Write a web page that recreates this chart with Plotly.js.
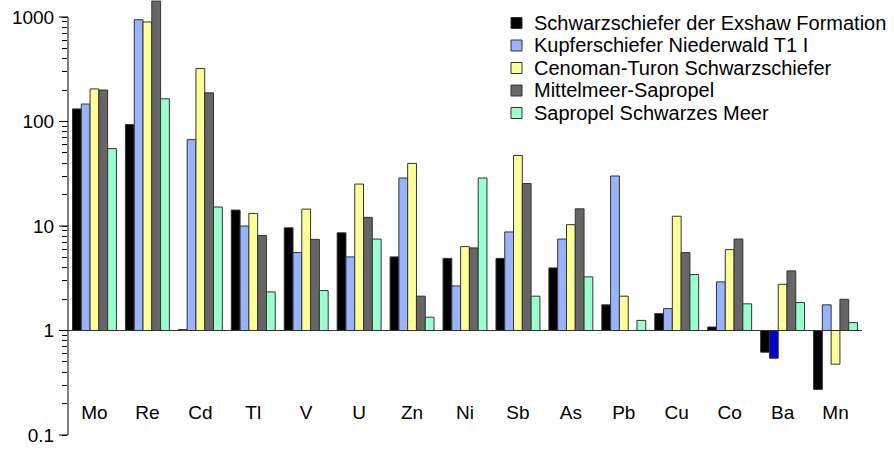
<!DOCTYPE html>
<html>
<head>
<meta charset="utf-8">
<script src="https://cdn.plot.ly/plotly-3.0.1.min.js"></script>
<style>
  html, body { margin: 0; padding: 0; background: #fff; }
  #chart { width: 894px; height: 449px; }
</style>
</head>
<body>
<div id="chart"></div>
<script>
// Element enrichment factors (log scale, bars drawn from the reference level 1)
const categories = ['Mo', 'Re', 'Cd', 'Tl', 'V', 'U', 'Zn', 'Ni', 'Sb', 'As', 'Pb', 'Cu', 'Co', 'Ba', 'Mn'];

const seriesNames = [
  'Schwarzschiefer der Exshaw Formation',
  'Kupferschiefer Niederwald T1 I',
  'Cenoman-Turon Schwarzschiefer',
  'Mittelmeer-Sapropel',
  'Sapropel Schwarzes Meer'
];

const exshaw        = [132, 93.5, 1.02, 14.2, 9.6, 8.6, 5.06, 4.9, 4.9, 3.97, 1.76, 1.45, 1.08, 0.62, 0.273];
const kupferschiefer= [147, 942, 67, 10, 5.56, 5.06, 28.8, 2.67, 8.77, 7.5, 30.1, 1.62, 2.92, 0.543, 1.76];
const cenomanTuron  = [205, 896, 321, 13.2, 14.5, 25.2, 39.7, 6.35, 47.3, 10.3, 2.13, 12.4, 5.94, 2.77, 0.476];
const mittelmeer    = [200, 1420, 188, 8.1, 7.45, 12.1, 2.13, 6.17, 25.5, 14.6, null, 5.56, 7.5, 3.72, 1.99];
const schwarzesMeer = [55, 165, 15.2, 2.34, 2.41, 7.5, 1.34, 28.8, 2.13, 3.26, 1.25, 3.43, 1.8, 1.85, 1.19];

const seriesValues = [exshaw, kupferschiefer, cenomanTuron, mittelmeer, schwarzesMeer];
const seriesColors = ['#000000', '#99B3FF', '#FFFF99', '#666666', '#99FFCC'];
const highlight = { series: 1, category: 'Ba', color: '#0000CC' };

const baseLevel = 1;
const axisMin = 0.1, axisMax = 1000;        // labelled span of the value axis
const majorTicks = [0.1, 1, 10, 100, 1000];
const fontFamily = 'Liberation Sans, Arial, sans-serif';

// plot area geometry in pixels
const W = 894, H = 449;
const M = { l: 68, r: 32, t: 0, b: 14 };
const headroom = 17;                          // px above the 1000 tick left for the tallest bar
const plotW = W - M.l - M.r, plotH = H - M.t - M.b;
const decadeLo = -1, decadeHi = 3;            // log10 of axisMin / axisMax
const pxPerDecade = (plotH - headroom) / (decadeHi - decadeLo);
const yRange = [decadeLo, decadeHi + headroom / pxPerDecade];
const pxX = px => (px - M.l) / plotW;
const pxY = py => 1 - (py - M.t) / plotH;
// value on the log axis -> paper fraction
const valY = v => (Math.log10(v) - yRange[0]) / (yRange[1] - yRange[0]);

// all axis ticks: labelled decades plus unlabelled 2..9 steps inside each decade
const tickValues = [];
const tickTexts = [];
for (let k = decadeLo; k <= decadeHi; k++) {
  const decade = Math.pow(10, k);
  tickValues.push(decade);
  tickTexts.push(String(majorTicks[k - decadeLo]));
  if (k < decadeHi) {
    for (let m = 2; m <= 9; m++) {
      tickValues.push(m * decade);
      tickTexts.push('');
    }
  }
}

const traces = seriesValues.map((vals, i) => {
  const colors = categories.map(c =>
    (i === highlight.series && c === highlight.category) ? highlight.color : seriesColors[i]);
  return {
    type: 'bar',
    name: seriesNames[i],
    x: categories,
    base: baseLevel,
    y: vals.map(v => (v == null ? null : v - baseLevel)),
    customdata: vals,
    hovertemplate: '%{x}: %{customdata}<extra>' + seriesNames[i] + '</extra>',
    marker: { color: colors, line: { color: '#333333', width: 1 } },
    showlegend: false
  };
});

// longer marks at the labelled decades
const majorPath = majorTicks.map(v =>
  'M' + pxX(M.l - 9) + ',' + valY(v) + 'H' + pxX(M.l)).join(' ');

const shapes = [
  {
    type: 'path', xref: 'paper', yref: 'paper', path: majorPath,
    line: { color: '#000000', width: 1 }, layer: 'above'
  },
  // axis line from 0.1 to 1000
  {
    type: 'line', xref: 'paper', yref: 'paper', x0: 0, x1: 0, y0: valY(axisMin), y1: valY(axisMax),
    line: { color: '#000000', width: 1 }, layer: 'above'
  },
  // reference line at 1
  {
    type: 'line', xref: 'paper', yref: 'paper', x0: 0, x1: 1, y0: valY(baseLevel), y1: valY(baseLevel),
    line: { color: '#333333', width: 1 }, layer: 'above'
  }
];

// legend drawn as swatches + labels
const legendLeft = 511, legendTop = 23, rowGap = 22.5, sw = 11;
const annotations = [];
seriesNames.forEach((name, i) => {
  const cy = legendTop + i * rowGap;
  shapes.push({
    type: 'rect', xref: 'paper', yref: 'paper',
    x0: pxX(legendLeft), x1: pxX(legendLeft + sw),
    y0: pxY(cy - sw / 2), y1: pxY(cy + sw / 2),
    fillcolor: seriesColors[i], line: { color: '#333333', width: 1 }
  });
  annotations.push({
    xref: 'paper', yref: 'paper', x: pxX(legendLeft + sw + 10), y: pxY(cy),
    xanchor: 'left', yanchor: 'middle', showarrow: false, text: name,
    font: { family: fontFamily, size: 20, color: '#000' }
  });
});

const layout = {
  width: W, height: H,
  margin: M,
  paper_bgcolor: '#fff', plot_bgcolor: '#fff',
  font: { family: fontFamily, size: 19, color: '#000' },
  barmode: 'group', bargap: 0.17, bargroupgap: 0,
  showlegend: false,
  xaxis: {
    type: 'category', anchor: 'free', position: 0.083,
    range: [-0.5, categories.length - 0.5],
    showline: false, showgrid: false, zeroline: false, ticks: '',
    tickfont: { size: 19 }
  },
  yaxis: {
    type: 'log', range: yRange,
    tickmode: 'array', tickvals: tickValues, ticktext: tickTexts,
    showline: false,
    ticks: 'outside', ticklen: 5, tickcolor: '#000', tickwidth: 1,
    ticklabelstandoff: 4,
    showgrid: false, zeroline: false,
    tickfont: { size: 19 }
  },
  shapes: shapes,
  annotations: annotations
};

Plotly.newPlot('chart', traces, layout, { displayModeBar: false, staticPlot: true });
</script>
</body>
</html>
